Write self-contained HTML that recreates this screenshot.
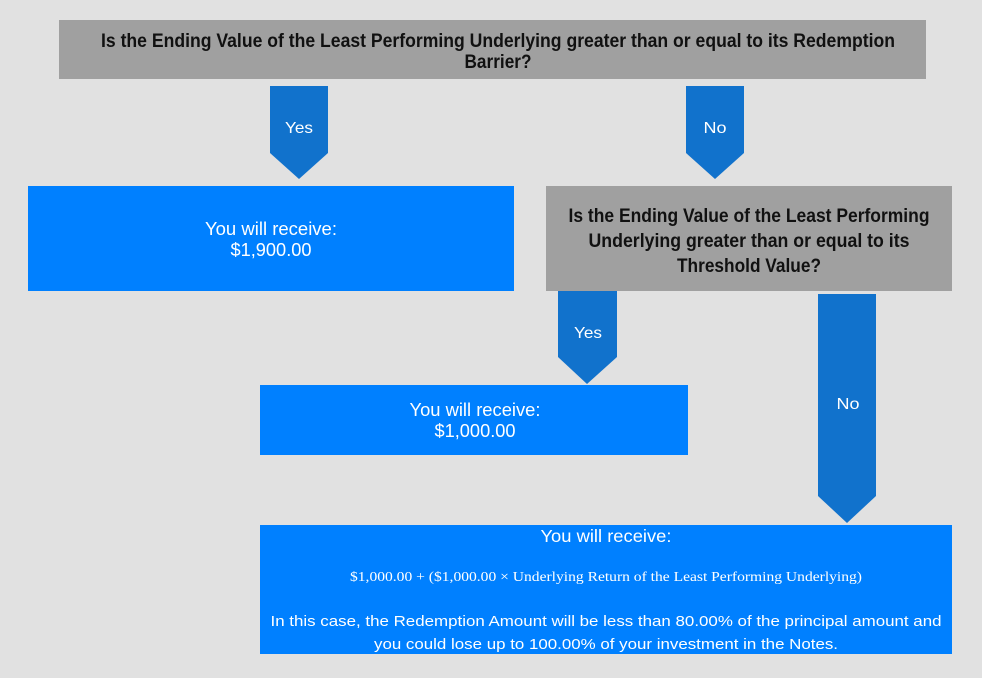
<!DOCTYPE html>
<html>
<head>
<meta charset="utf-8">
<style>
  html, body { margin: 0; padding: 0; background: #e1e1e1; }
  svg { display: block; }
  .t { font-family: "Liberation Sans", "DejaVu Sans", sans-serif; }
  .s { font-family: "Liberation Serif", "DejaVu Serif", serif; }
</style>
</head>
<body>
<svg width="982" height="678" viewBox="0 0 982 678" xmlns="http://www.w3.org/2000/svg">
  <rect x="0" y="0" width="982" height="678" fill="#e1e1e1"/>

  <!-- Top question box -->
  <rect x="59" y="20" width="867" height="59" fill="#a0a0a0"/>
  <text class="t" x="498" y="47" font-size="19" font-weight="bold" fill="#111" text-anchor="middle" textLength="794" lengthAdjust="spacingAndGlyphs">Is the Ending Value of the Least Performing Underlying greater than or equal to its Redemption</text>
  <text class="t" x="498" y="68" font-size="19" font-weight="bold" fill="#111" text-anchor="middle" textLength="67" lengthAdjust="spacingAndGlyphs">Barrier?</text>

  <!-- Yes arrow 1 -->
  <polygon points="270,86 328,86 328,153 299,179 270,153" fill="#1172cc"/>
  <text class="t" x="299" y="133" font-size="16" fill="#fff" text-anchor="middle" textLength="28" lengthAdjust="spacingAndGlyphs">Yes</text>

  <!-- No arrow 1 -->
  <polygon points="686,86 744,86 744,153 715,179 686,153" fill="#1172cc"/>
  <text class="t" x="715" y="133" font-size="16" fill="#fff" text-anchor="middle" textLength="23" lengthAdjust="spacingAndGlyphs">No</text>

  <!-- $1,900 box -->
  <rect x="28" y="186" width="486" height="105" fill="#0080ff"/>
  <text class="t" x="271" y="235" font-size="18" fill="#fff" text-anchor="middle" textLength="132" lengthAdjust="spacingAndGlyphs">You will receive:</text>
  <text class="t" x="271" y="256" font-size="18" fill="#fff" text-anchor="middle" textLength="81" lengthAdjust="spacingAndGlyphs">$1,900.00</text>

  <!-- Second question box -->
  <rect x="546" y="186" width="406" height="105" fill="#a0a0a0"/>
  <text class="t" x="749" y="222" font-size="19" font-weight="bold" fill="#111" text-anchor="middle" textLength="361" lengthAdjust="spacingAndGlyphs">Is the Ending Value of the Least Performing</text>
  <text class="t" x="749" y="247" font-size="19" font-weight="bold" fill="#111" text-anchor="middle" textLength="321" lengthAdjust="spacingAndGlyphs">Underlying greater than or equal to its</text>
  <text class="t" x="749" y="272" font-size="19" font-weight="bold" fill="#111" text-anchor="middle" textLength="144" lengthAdjust="spacingAndGlyphs">Threshold Value?</text>

  <!-- Yes arrow 2 -->
  <polygon points="558,291 617,291 617,357 587,384 558,357" fill="#1172cc"/>
  <text class="t" x="588" y="338" font-size="16" fill="#fff" text-anchor="middle" textLength="28" lengthAdjust="spacingAndGlyphs">Yes</text>

  <!-- $1,000 box -->
  <rect x="260" y="385" width="428" height="70" fill="#0080ff"/>
  <text class="t" x="475" y="416" font-size="18" fill="#fff" text-anchor="middle" textLength="131" lengthAdjust="spacingAndGlyphs">You will receive:</text>
  <text class="t" x="475" y="437" font-size="18" fill="#fff" text-anchor="middle" textLength="81" lengthAdjust="spacingAndGlyphs">$1,000.00</text>

  <!-- No arrow 2 -->
  <polygon points="818,294 876,294 876,496 847,523 818,496" fill="#1172cc"/>
  <text class="t" x="848" y="409" font-size="16" fill="#fff" text-anchor="middle" textLength="23" lengthAdjust="spacingAndGlyphs">No</text>

  <!-- Bottom box -->
  <rect x="260" y="525" width="692" height="129" fill="#0080ff"/>
  <text class="t" x="606" y="542" font-size="17.5" fill="#fff" text-anchor="middle" textLength="131" lengthAdjust="spacingAndGlyphs">You will receive:</text>
  <text class="s" x="606" y="581" font-size="14" fill="#fff" text-anchor="middle" textLength="512" lengthAdjust="spacingAndGlyphs">$1,000.00 + ($1,000.00 × Underlying Return of the Least Performing Underlying)</text>
  <text class="t" x="606" y="626" font-size="15" fill="#fff" text-anchor="middle" textLength="671" lengthAdjust="spacingAndGlyphs">In this case, the Redemption Amount will be less than 80.00% of the principal amount and</text>
  <text class="t" x="606" y="649" font-size="15" fill="#fff" text-anchor="middle" textLength="464" lengthAdjust="spacingAndGlyphs">you could lose up to 100.00% of your investment in the Notes.</text>
</svg>
</body>
</html>
